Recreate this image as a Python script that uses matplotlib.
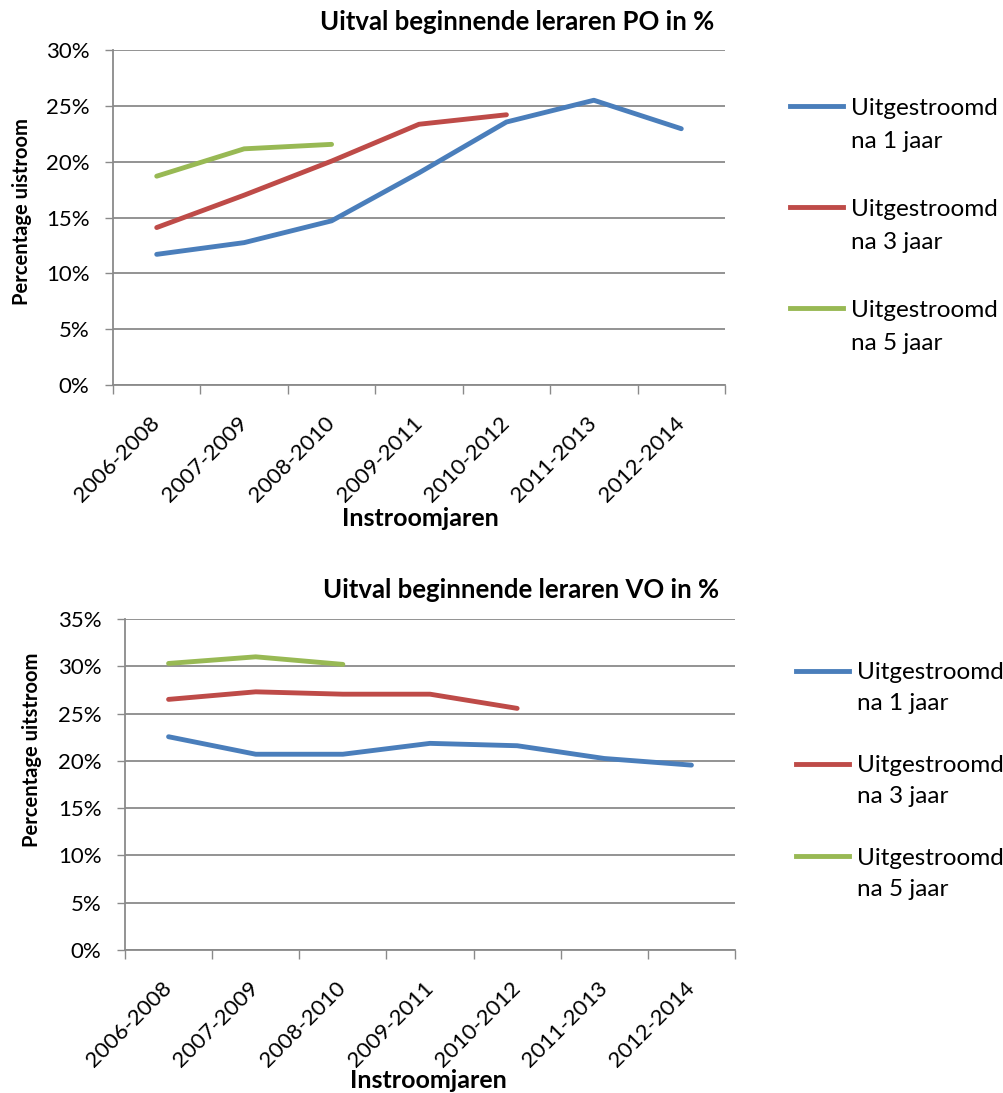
import matplotlib
matplotlib.use("Agg")
import matplotlib.pyplot as plt
from matplotlib.lines import Line2D
import numpy as np

plt.rcParams['font.family'] = ['Lato', 'DejaVu Sans']

categories = ["2006-2008", "2007-2009", "2008-2010", "2009-2011", "2010-2012", "2011-2013", "2012-2014"]

po_1jaar = [11.7, 12.75, 14.7, 19.0, 23.55, 25.5, 22.95]
po_3jaar = [14.1, 17.0, 20.05, 23.35, 24.2]
po_5jaar = [18.7, 21.15, 21.55]

vo_1jaar = [22.55, 20.7, 20.7, 21.85, 21.6, 20.25, 19.55]
vo_3jaar = [26.5, 27.3, 27.05, 27.05, 25.55]
vo_5jaar = [30.3, 31.0, 30.2]

series_labels = ["Uitgestroomd na 1 jaar", "Uitgestroomd na 3 jaar", "Uitgestroomd na 5 jaar"]
colors = ["#4A7EBB", "#BE4B48", "#98B954"]

titles = ["Uitval beginnende leraren PO in %", "Uitval beginnende leraren VO in %"]
ylabels = ["Percentage uistroom", "Percentage uitstroom"]
xlabel = "Instroomjaren"
po_yticks = [0, 5, 10, 15, 20, 25, 30]
vo_yticks = [0, 5, 10, 15, 20, 25, 30, 35]

W, H = 1004, 1093
fig = plt.figure(figsize=(W / 100, H / 100), dpi=100)

def px_axes(left, top, right, bottom):
    return fig.add_axes([left / W, 1 - bottom / H, (right - left) / W, (bottom - top) / H])

ax1 = px_axes(113, 50, 725, 385)
ax2 = px_axes(125, 619, 735, 950)

grid_c = "#8A8A8A"

def style(ax, data, yticks, title, title_xy, ylabel, ylabel_xy, xlabel_xy,
          legend_x, legend_cy, labelspacing):
    x = np.arange(len(categories)) + 0.5
    for vals, c in zip(data, colors):
        ax.plot(x[:len(vals)], vals, color=c, lw=3.5, solid_capstyle='round',
                solid_joinstyle='round', zorder=3)
    ax.set_xlim(0, len(categories))
    ax.set_ylim(yticks[0], yticks[-1])
    ax.set_yticks(yticks)
    ax.set_yticklabels([f"{v}%" for v in yticks], fontsize=16)
    ax.set_xticks(np.arange(len(categories) + 1))
    ax.set_xticklabels([])
    ax.set_xticks(x, minor=True)
    ax.set_xticklabels(categories, minor=True, rotation=45, ha='right', va='center',
                       rotation_mode='anchor', fontsize=16)
    ax.tick_params(axis='x', which='minor', length=0, pad=25)
    ax.tick_params(axis='x', which='major', length=6.5, color=grid_c, width=1)
    ax.tick_params(axis='y', length=6, color=grid_c, width=1, pad=11)
    ax.grid(axis='y', color=grid_c, lw=1.3, zorder=1)
    ax.set_axisbelow(True)
    for s in ['top', 'right']:
        ax.spines[s].set_visible(False)
    for s in ['left', 'bottom']:
        ax.spines[s].set_color(grid_c)
        ax.spines[s].set_linewidth(1.3)
    fig.text(title_xy[0] / W, 1 - title_xy[1] / H, title, ha='center', va='center',
             fontsize=18.5, fontweight='bold')
    fig.text(ylabel_xy[0] / W, 1 - ylabel_xy[1] / H, ylabel, rotation=90,
             ha='center', va='center', fontsize=14.5, fontweight='bold')
    fig.text(xlabel_xy[0] / W, 1 - xlabel_xy[1] / H, xlabel, ha='center', va='center',
             fontsize=18, fontweight='bold')
    handles, labels = [], []
    blank = Line2D([], [], lw=0)
    for i, (lab, c) in enumerate(zip(series_labels, colors)):
        first, second = lab.split(" na ")
        handles += [Line2D([], [], color=c, lw=3.5), blank]
        labels += [first, "na " + second]
        if i < 2:
            handles.append(blank)
            labels.append(" ")
    fig.legend(handles, labels, loc='center left',
               bbox_to_anchor=(legend_x / W, 1 - legend_cy / H),
               frameon=False, fontsize=17.5, handlelength=2.2, handletextpad=0.3,
               labelspacing=labelspacing, borderpad=0, borderaxespad=0)

style(ax1, [po_1jaar, po_3jaar, po_5jaar], po_yticks, titles[0], (517, 22),
      ylabels[0], (22, 212), (420, 518), 790, 226, 0.52)
style(ax2, [vo_1jaar, vo_3jaar, vo_5jaar], vo_yticks, titles[1], (521, 590),
      ylabels[1], (32, 750), (428, 1081), 796, 781, 0.41)

fig.savefig("out.png", dpi=100)
